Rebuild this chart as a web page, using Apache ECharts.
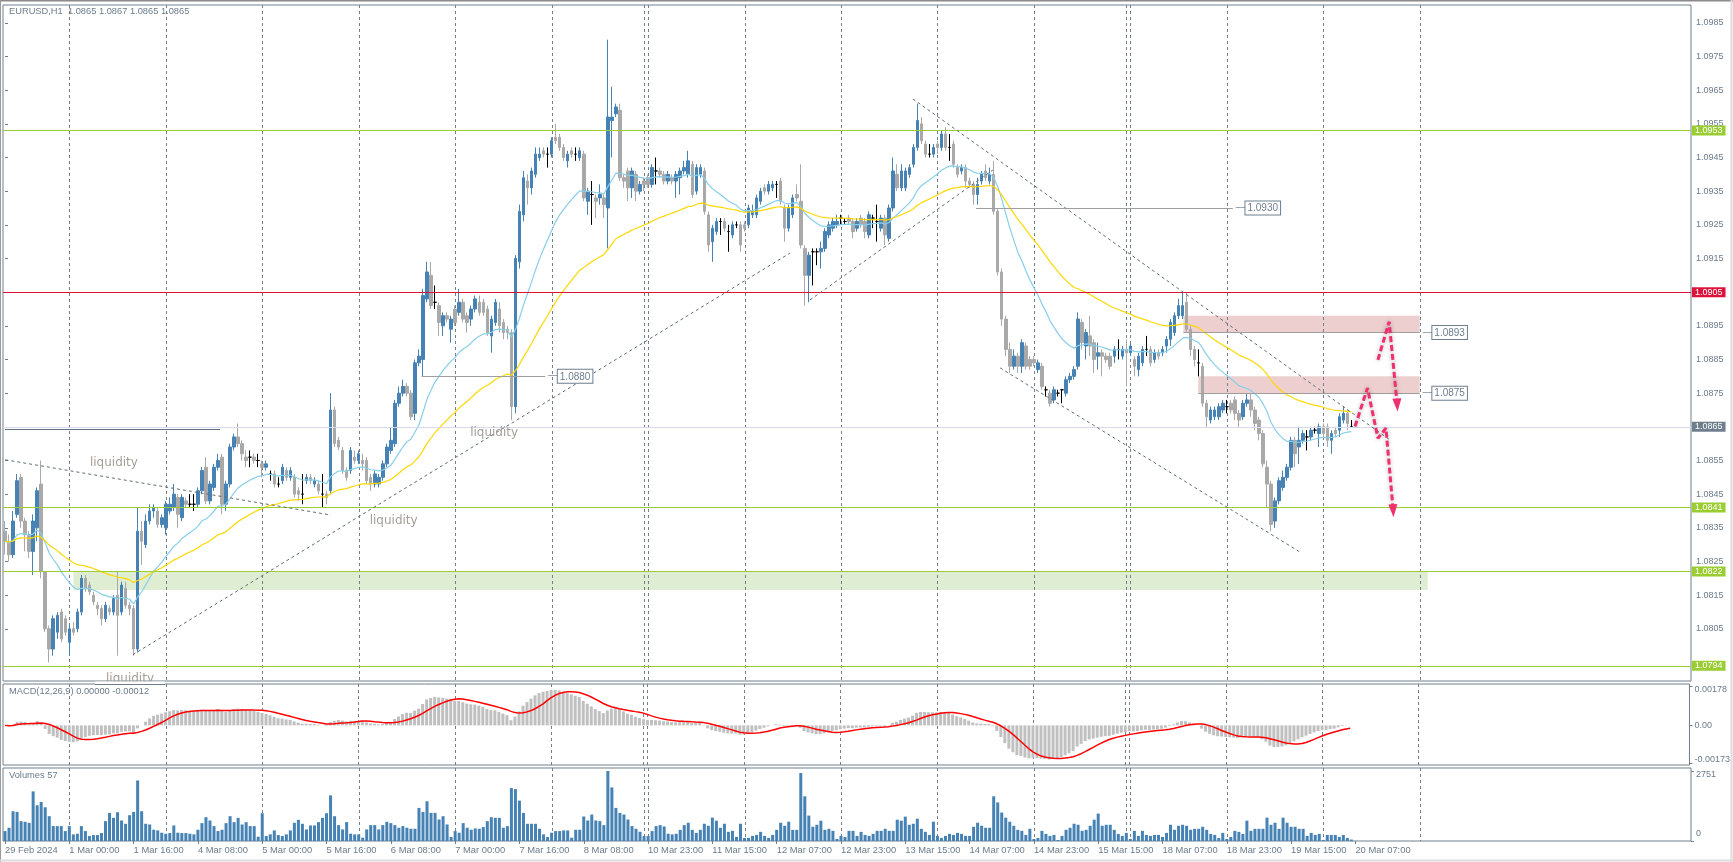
<!DOCTYPE html>
<html><head><meta charset="utf-8">
<script src="https://cdn.jsdelivr.net/npm/echarts@6/dist/echarts.min.js"></script>
<style>html,body{margin:0;padding:0;background:#fff;}#c{width:1733px;height:862px;}</style>
</head><body><div id="c"></div>
<script>
// ---------------- DATA ----------------
const PIP_BASE = 1.0800; // candle prices are stored as pips above 1.0800
const xLabels = ['29 Feb 2024','1 Mar 00:00','1 Mar 16:00','4 Mar 08:00','5 Mar 00:00','5 Mar 16:00','6 Mar 08:00','7 Mar 00:00','7 Mar 16:00','8 Mar 08:00','10 Mar 23:00','11 Mar 15:00','12 Mar 07:00','12 Mar 23:00','13 Mar 15:00','14 Mar 07:00','14 Mar 23:00','15 Mar 15:00','18 Mar 07:00','18 Mar 23:00','19 Mar 15:00','20 Mar 07:00'];
const openPips = [34,31,27,39,50,37,33,28,35,48,22,5,-1,4,10,8,1,5,5,10,20,18,15,12,11,8,11,10,15,10,17,12,11,-1,34,30,37,40,40,36,35,40,41,44,38,43,42,42,42,46,53,43,47,53,56,42,48,59,62,60,56,56,56,55,54,53,51,51,48,49,52,50,50,46,45,49,50,48,48,45,45,46,70,61,58,52,52,56,55,55,55,50,48,48,50,54,58,60,72,75,77,75,69,84,85,103,110,102,101,95,98,94,100,99,102,98,97,100,102,102,100,92,96,100,96,94,93,71,114,128,138,136,140,145,147,146,146,151,151,148,144,147,146,145,146,132,134,133,133,133,130,156,158,159,139,141,136,140,135,138,139,137,141,141,140,138,139,138,139,141,140,143,135,140,141,128,120,123,126,126,123,122,125,125,125,125,128,128,132,136,135,136,137,138,130,124,128,134,132,118,110,117,117,117,118,122,124,125,127,126,127,126,124,127,126,122,127,126,124,127,121,130,140,136,136,140,143,148,155,149,146,146,149,148,152,148,149,142,141,142,138,137,134,138,141,138,140,129,111,97,88,83,86,83,89,85,85,82,83,76,75,73,75,76,75,79,80,83,96,89,92,90,86,87,86,86,86,88,86,88,87,85,82,84,88,88,85,87,87,89,91,93,98,98,102,94,88,84,83,72,67,68,68,70,71,72,73,69,68,72,73,70,67,63,53,48,37,43,47,50,53,61,59,61,62,62,64,63,65,65,61,64,64,67,69,65];
const closePips = [31,27,37,49,37,33,28,37,46,22,5,-1,8,9,2,4,5,4,10,20,17,16,13,11,8,12,10,14,9,18,12,11,-1,34,31,37,40,41,36,38,42,42,45,39,44,42,42,42,46,52,43,48,53,55,42,48,59,62,60,57,55,56,55,55,53,54,51,48,48,53,50,52,45,45,45,50,49,49,46,45,44,70,60,59,52,50,58,55,57,54,49,48,51,50,54,59,61,72,75,77,75,68,84,86,104,111,101,102,96,98,97,97,96,102,97,96,100,103,99,99,93,97,102,95,93,93,71,115,129,139,136,141,146,146,146,146,150,150,148,145,146,146,146,147,133,135,134,132,134,131,157,157,160,139,138,136,141,135,137,137,137,142,141,140,138,140,138,140,141,142,144,134,142,142,129,119,124,126,126,124,123,125,125,119,124,130,129,133,135,135,137,137,137,132,124,130,133,133,119,110,116,117,117,118,123,125,126,126,127,126,126,123,126,125,123,128,127,126,127,122,130,141,136,141,141,142,148,156,150,146,146,148,148,152,148,148,143,140,142,138,137,134,137,140,139,140,129,111,97,88,83,86,83,90,83,83,84,84,77,76,72,76,75,76,79,80,82,97,90,93,89,85,87,86,85,83,88,88,88,87,89,83,86,88,88,84,87,86,88,91,96,98,101,101,94,88,85,84,72,68,70,70,71,72,71,70,69,67,72,73,70,66,63,54,48,36,43,49,50,53,61,57,61,63,62,64,64,65,63,61,63,63,68,69,66,65];
const highPips = [37,33,40,51,51,38,34,39,47,55,22,6,9,10,11,9,6,7,11,21,21,19,16,13,12,13,12,15,22,19,19,13,12,41,37,39,42,42,41,39,43,44,48,45,45,44,45,45,47,53,56,49,54,57,57,49,60,63,66,61,58,58,57,57,55,55,52,52,50,54,53,53,51,47,51,51,51,50,49,51,46,75,71,62,59,53,59,58,58,57,56,51,52,51,55,60,65,73,77,79,78,76,85,88,106,114,114,107,102,99,99,98,101,106,103,99,101,104,104,103,101,98,103,102,97,95,94,116,131,141,140,142,148,148,148,148,151,155,152,149,147,148,148,148,147,136,138,134,137,134,180,166,161,161,140,142,142,141,138,139,140,143,145,142,141,141,140,141,142,144,147,144,143,143,142,129,125,127,127,127,125,126,126,126,126,131,131,134,136,137,138,138,138,139,131,131,134,137,143,119,117,118,118,120,124,126,127,128,128,127,128,127,127,128,127,129,128,131,128,128,131,145,143,143,142,143,149,161,157,150,149,149,150,153,154,152,150,143,143,143,139,138,139,141,143,142,144,130,112,98,90,88,87,91,90,86,86,85,84,77,76,77,76,76,80,81,83,99,97,94,98,91,90,88,87,87,89,91,89,91,90,86,87,89,92,89,88,88,89,92,97,99,103,105,105,95,89,88,84,73,71,71,72,73,73,73,74,70,73,75,75,71,68,64,55,49,44,50,52,54,62,62,65,64,64,65,65,66,66,66,64,65,69,71,70,67];
const lowPips = [27,25,26,38,35,28,26,21,31,20,4,-5,-3,2,1,3,-3,3,4,9,16,15,12,9,6,7,9,9,-3,9,11,9,-3,-2,24,29,36,38,35,35,33,39,40,35,37,41,41,40,41,45,42,42,46,52,39,40,47,58,59,55,53,53,54,53,50,52,49,47,47,48,49,49,44,43,42,48,48,47,45,41,42,45,59,58,51,49,51,54,54,52,48,46,47,47,49,53,57,59,71,74,74,67,67,83,80,102,100,100,92,92,96,90,95,98,96,93,95,99,98,98,92,87,95,93,91,91,67,69,112,126,131,134,139,144,145,142,145,149,147,144,142,145,144,144,132,128,125,127,131,127,118,145,157,138,136,132,133,132,134,135,136,136,137,139,137,137,137,133,134,140,139,133,134,139,128,117,114,122,122,123,117,121,124,117,123,124,127,127,131,134,134,135,133,131,120,123,127,132,118,101,102,107,113,112,117,121,123,124,125,125,125,121,123,124,121,121,124,120,123,119,120,129,135,135,135,139,142,147,149,145,145,145,146,147,147,144,142,139,140,136,136,131,131,137,138,137,128,110,95,86,81,82,81,81,82,82,83,81,76,74,71,72,74,72,74,78,79,82,88,85,86,81,82,80,84,82,84,85,85,77,86,80,80,83,86,83,84,85,86,87,89,92,97,97,93,86,83,80,71,65,66,67,67,69,69,69,67,65,67,71,68,64,61,53,41,34,35,42,46,49,52,53,54,60,58,61,63,59,62,59,57,62,62,66,64,65];
const volumes = [390,520,1170,1144,780,754,715,1950,1404,1534,1326,975,585,585,585,390,585,260,286,585,390,195,234,234,312,780,1105,910,1131,806,676,1014,1144,2379,1170,676,650,442,416,325,286,312,611,325,312,312,286,260,442,702,936,806,585,390,442,702,975,741,910,650,741,585,585,169,1092,195,260,416,234,195,260,416,715,832,676,455,611,611,741,910,1092,1794,975,624,455,741,286,260,260,130,455,624,624,455,624,754,702,624,520,585,520,481,481,1300,1144,1560,1105,1105,845,975,650,156,390,325,702,520,442,494,481,546,780,936,910,910,520,585,2080,2041,1586,1105,676,676,676,481,260,156,325,390,390,416,416,130,442,442,962,806,1040,806,780,624,2751,2106,1300,1105,1040,845,585,481,364,195,195,390,585,624,572,286,260,286,
 439,625,718,439,319,439,678,598,918,798,519,678,359,399,160,678,120,120,200,239,359,200,120,239,439,718,598,758,439,439,2673,1756,998,559,638,798,439,479,399,80,200,160,399,399,200,359,239,200,279,399,399,479,399,399,838,798,958,638,678,878,479,359,239,758,200,120,200,279,239,319,279,200,200,559,718,598,519,519,1756,1516,1117,918,758,598,439,399,239,479,80,120,399,279,200,239,40,200,439,519,678,638,399,439,598,838,1077,598,638,638,439,279,200,319,80,399,200,399,239,200,239,239,160,319,638,439,598,638,598,439,479,479,559,439,279,239,120,319,80,160,399,359,279,798,399,479,479,479,918,638,718,479,918,718,559,559,479,479,200,319,239,279,40,239,239,239,160,239,120,57];
const priceTicks = [1.0805,1.0815,1.0825,1.0835,1.0845,1.0855,1.0865,1.0875,1.0885,1.0895,1.0905,1.0915,1.0925,1.0935,1.0945,1.0955,1.0965,1.0975,1.0985];
const macdTicks = [0.00178, 0, -0.00173];
const volumeTicks = [0, 2751];
const levelPrices = [1.0953, 1.0905, 1.0841, 1.0822, 1.0794];
const bidPrice = 1.0865;
const refLinePrice = 1.08644;          // short dark line at the left
const refLineBars = [0, 53.5];
const trendLines = [                   // [bar, price] pairs
  [[0.1, 1.08552], [81.1, 1.08388]],
  [[31.8, 1.07973], [195.3, 1.09166]],
  [[200.3, 1.09027], [245.8, 1.09413]],
  [[225.9, 1.09624], [344.6, 1.08611]],
  [[247.6, 1.08825], [322.5, 1.08276]]
];
const priceTags = [                    // [fromBar, toBar, price]
  [103.7, 134.4, 1.0880], [241.6, 305.5, 1.0930], [293.2, 352, 1.0893], [296.9, 352, 1.0875]
];
const zones = [                        // [fromBar, toBar, top, bottom]
  [293.2, 352, 1.0898, 1.0893], [296.9, 352, 1.0880, 1.0875], [17, 354, 1.0822, 1.08165]
];
const liquidityMarks = [[27.1, 1.08543], [96.7, 1.08372], [121.7, 1.08632], [31.1, 1.07901]];
const arrowUp = [[341.6, 1.08849], [344.4, 1.08962], [346.4, 1.08715]];
const arrowDown = [[335.9, 1.08651], [339.0, 1.08765], [341.6, 1.08616], [343.6, 1.08646], [345.4, 1.08401]];

// ---------------- BUILD ----------------
const TEXT = '#6b7b8b', BORDER = '#6e7e8e', FONT = 'Liberation Sans, Arial, sans-serif';
const N_SLOTS = 420;
const cats = Array.from({length: N_SLOTS}, (_, i) => String(i));
const toPrice = p => Math.round((PIP_BASE + p / 10000) * 1e5) / 1e5;
const ohlc = closePips.map((c, i) => [toPrice(openPips[i]), toPrice(c), toPrice(lowPips[i]), toPrice(highPips[i])]);
const closes = closePips.map(toPrice);
function sma(arr, n) { return arr.map((_, i) => { const s = Math.max(0, i - n + 1); let t = 0; for (let k = s; k <= i; k++) t += arr[k]; return t / (i - s + 1); }); }
function ema(arr, n) { const a = 2 / (n + 1), out = []; arr.forEach((v, i) => out.push(i === 0 ? v : out[i - 1] + a * (v - out[i - 1]))); return out; }
const maFast = ema(closes, 20), maSlow = ema(closes, 50);
const e12 = ema(closes, 12), e26 = ema(closes, 26);
const macdMain = e12.map((v, i) => v - e26[i]);
const macdSignal = sma(macdMain, 9);
const gridBars = []; for (let i = 16; i <= 352; i += 24) gridBars.push(i);
const weekBars = [159, 279];
const levelColors = ['#9acd32', '#dc143c', '#9acd32', '#9acd32', '#9acd32'];
const zoneColors = ['rgba(200,110,110,0.33)', 'rgba(200,110,110,0.33)', 'rgba(150,200,110,0.30)'];
const isLabel = i => i % 16 === 0 && i / 16 < xLabels.length;

function vLines(xi, yi) {
  return { type: 'custom', xAxisIndex: xi, yAxisIndex: yi, z: 1, silent: true,
    data: gridBars.concat(weekBars).map(v => [v, 0]),
    renderItem(params, api) {
      const x = Math.round(api.coord([api.value(0), api.value(1)])[0]) + 0.5;
      const cs = params.coordSys;
      return { type: 'line', shape: { x1: x, y1: cs.y, x2: x, y2: cs.y + cs.height }, style: { stroke: '#737f8c', lineWidth: 1, lineDash: [3, 3] } };
    } };
}
const grids = [
  { left: 3, right: 42, top: 5, height: 676 },
  { left: 3, right: 42, top: 684, height: 81 },
  { left: 3, right: 42, top: 768, height: 73 }
].map(g => Object.assign(g, { show: true, borderColor: BORDER, borderWidth: 1, backgroundColor: 'transparent' }));

const catAxis = gi => ({ type: 'category', gridIndex: gi, data: cats, boundaryGap: true,
  axisLine: { show: false }, axisTick: { show: false }, axisLabel: { show: false }, splitLine: { show: false } });
const xAxes = [catAxis(0), catAxis(1), catAxis(2),
  { type: 'value', gridIndex: 0, min: -0.5, max: N_SLOTS - 0.5, show: false }];
xAxes[2].axisTick = { show: true, alignWithLabel: true, length: 3, interval: isLabel, lineStyle: { color: BORDER } };
xAxes[2].axisLabel = { show: true, interval: isLabel, formatter: (v, idx) => isLabel(idx) ? xLabels[idx / 16] : '',
  align: 'left', color: TEXT, fontSize: 9.4, fontFamily: FONT, margin: 5 };

const axLbl = { color: TEXT, fontSize: 9, fontFamily: FONT, margin: 5 };
const yAxes = [
  { type: 'value', gridIndex: 0, position: 'right', min: 1.07895, max: 1.09903, splitLine: { show: false }, axisLine: { show: false },
    axisTick: { show: true, length: 3, lineStyle: { color: BORDER }, customValues: priceTicks },
    axisLabel: Object.assign({ customValues: priceTicks, formatter: v => v.toFixed(4) }, axLbl) },
  { type: 'value', gridIndex: 1, position: 'right', min: -0.00181, max: 0.00189, splitLine: { show: false }, axisLine: { show: false },
    axisTick: { show: true, length: 3, lineStyle: { color: BORDER }, customValues: macdTicks },
    axisLabel: Object.assign({ customValues: macdTicks, formatter: v => v === 0 ? '0.00' : (v > 0 ? '{t|' + v.toFixed(5) + '}' : '{b|' + v.toFixed(5) + '}'),
      rich: { t: { padding: [7, 0, 0, 0] }, b: { padding: [0, 0, 8, 0] } } }, axLbl) },
  { type: 'value', gridIndex: 2, position: 'right', min: 0, max: 2869, splitLine: { show: false }, axisLine: { show: false },
    axisTick: { show: true, length: 3, lineStyle: { color: BORDER }, customValues: volumeTicks },
    axisLabel: Object.assign({ customValues: volumeTicks, formatter: v => v === 0 ? '{b|0}' : '{t|' + v + '}',
      rich: { t: { padding: [8, 0, 0, 0] }, b: { padding: [0, 0, 14, 0] } } }, axLbl) }
];

const boxLabel = (txt, bg) => ({ show: true, position: 'end', distance: 1, formatter: txt, backgroundColor: bg, color: '#fff',
  padding: [1, 3, 0, 3], fontSize: 9, fontFamily: FONT });
const markLines = [];
levelPrices.forEach((p, k) => markLines.push({ yAxis: p, lineStyle: { color: levelColors[k], width: 1.2, type: 'solid' }, label: boxLabel(p.toFixed(4), levelColors[k]) }));
markLines.push({ yAxis: bidPrice, lineStyle: { color: '#d8d8ee', width: 1, type: 'solid' }, label: boxLabel(bidPrice.toFixed(4), '#6e7e8e') });
markLines.push([{ coord: [refLineBars[0], refLinePrice], lineStyle: { color: '#5f6f80', width: 1, type: 'solid' }, label: { show: false } }, { coord: [refLineBars[1], refLinePrice] }]);
trendLines.forEach(([a, b]) => markLines.push([{ coord: a, lineStyle: { color: '#5f6b78', width: 1, type: [3, 3] }, label: { show: false } }, { coord: b }]));
priceTags.forEach(([a, b, p]) => markLines.push([{ coord: [a, p], lineStyle: { color: '#9e9e9e', width: 1, type: 'solid' },
  label: { show: true, position: 'end', distance: 3, formatter: '{l|──}{b|' + p.toFixed(4) + '}',
    rich: { l: { color: '#6e7e8e', fontSize: 8, fontFamily: 'DejaVu Sans Mono' },
      b: { color: '#6e7e8e', borderColor: '#6e7e8e', borderWidth: 1, backgroundColor: '#fff', padding: [2, 2, 1, 2], fontSize: 10, fontFamily: FONT } } } },
  { coord: [b, p] }]));

const arrowSeries = pts => ({ type: 'line', xAxisIndex: 3, yAxisIndex: 0, z: 7, silent: true, symbol: 'none', showSymbol: true,
  data: pts.map((p, k) => k === pts.length - 1 ? { value: p, symbol: 'triangle', symbolSize: [9, 13], symbolRotate: 183, itemStyle: { color: '#f0306e' } } : { value: p }),
  lineStyle: { color: '#f0306e', width: 3, type: [6, 3], shadowBlur: 4, shadowColor: 'rgba(0,0,0,0.3)' } });

const option = {
  animation: false,
  grid: grids, xAxis: xAxes, yAxis: yAxes,
  series: [
    vLines(0, 0), vLines(1, 1), vLines(2, 2),
    { type: 'candlestick', xAxisIndex: 0, yAxisIndex: 0, z: 3, data: ohlc, barWidth: 3,
      itemStyle: { color: '#4682b4', color0: '#a9a9a9', borderColor: '#4682b4', borderColor0: '#a9a9a9', borderColorDoji: '#000', borderWidth: 1 } },
    { type: 'line', xAxisIndex: 0, yAxisIndex: 0, z: 4, data: maFast, symbol: 'none', lineStyle: { color: '#87ceeb', width: 1.2 } },
    { type: 'line', xAxisIndex: 0, yAxisIndex: 0, z: 4, data: maSlow, symbol: 'none', lineStyle: { color: '#ffd700', width: 1.2 } },
    { type: 'line', xAxisIndex: 3, yAxisIndex: 0, z: 5, silent: true, data: [[-20, 1.085]], symbol: 'none', lineStyle: { width: 0 },
      markArea: { silent: true, data: zones.map(([a, b, t, btm], k) => [{ coord: [a, t], itemStyle: { color: zoneColors[k] } }, { coord: [b, btm] }]) },
      markLine: { silent: true, precision: 5, symbol: ['none', 'none'], data: markLines },
      markPoint: { silent: true, data: liquidityMarks.map(c => ({ coord: c, symbol: 'circle', symbolSize: 1, itemStyle: { color: 'transparent' },
        label: { show: true, position: 'inside', formatter: 'liquidity', color: '#a59e97', fontSize: 12, fontFamily: 'DejaVu Sans' } })) } },
    arrowSeries(arrowUp), arrowSeries(arrowDown),
    { type: 'bar', xAxisIndex: 1, yAxisIndex: 1, z: 3, data: macdMain, barWidth: 3, itemStyle: { color: '#c0c0c0' } },
    { type: 'line', xAxisIndex: 1, yAxisIndex: 1, z: 4, data: macdSignal, symbol: 'none', lineStyle: { color: '#ff0000', width: 1.5 } },
    { type: 'bar', xAxisIndex: 2, yAxisIndex: 2, z: 3, data: volumes, barWidth: 3, itemStyle: { color: '#4682b4' } }
  ],
  graphic: [
    { type: 'text', left: 9, top: 7, z: 50, style: { text: 'EURUSD,H1  1.0865 1.0867 1.0865 1.0865', fill: TEXT, font: '9.3px Liberation Sans' } },
    { type: 'text', left: 9, top: 687, z: 50, style: { text: 'MACD(12,26,9) 0.00000 -0.00012', fill: TEXT, font: '9.3px Liberation Sans' } },
    { type: 'text', left: 9, top: 771, z: 50, style: { text: 'Volumes 57', fill: TEXT, font: '9.3px Liberation Sans' } },
    { type: 'rect', z: 60, shape: { x: 95, y: 681.6, width: 70, height: 5.4 }, style: { fill: '#fff' } },
    { type: 'line', z: 61, shape: { x1: 95, y1: 684.5, x2: 165, y2: 684.5 }, style: { stroke: BORDER, lineWidth: 1 } },
    { type: 'line', z: 61, shape: { x1: 0, y1: 0.5, x2: 1733, y2: 0.5 }, style: { stroke: '#8a8a8a', lineWidth: 2 } },
    { type: 'line', z: 61, shape: { x1: 0.5, y1: 0, x2: 0.5, y2: 862 }, style: { stroke: '#9a9a9a', lineWidth: 1 } },
    { type: 'line', z: 61, shape: { x1: 1731.5, y1: 0, x2: 1731.5, y2: 862 }, style: { stroke: '#dcdcdc', lineWidth: 2 } },
    { type: 'line', z: 61, shape: { x1: 0, y1: 860.5, x2: 1733, y2: 860.5 }, style: { stroke: '#dcdcdc', lineWidth: 2 } }
  ]
};
const chart = echarts.init(document.getElementById('c'), null, { renderer: 'canvas' });
chart.setOption(option);
</script></body></html>
